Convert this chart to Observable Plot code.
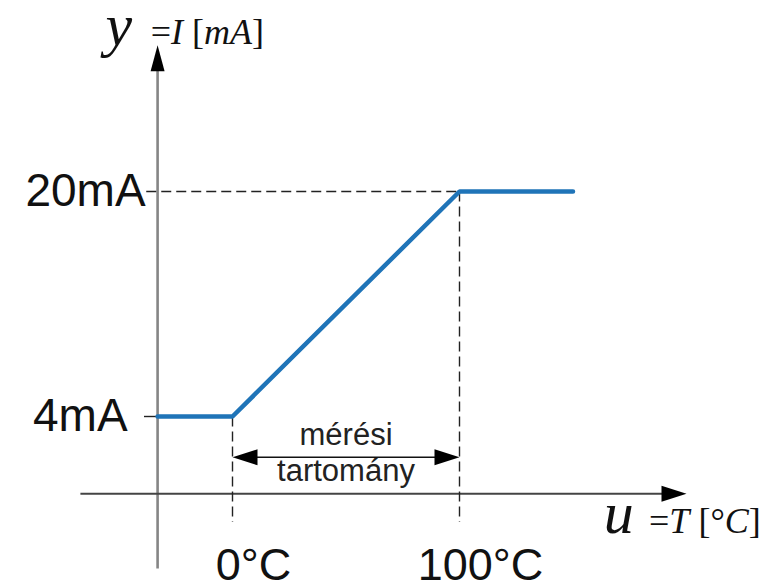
<!DOCTYPE html>
<html>
<head>
<meta charset="utf-8">
<script src="https://cdn.jsdelivr.net/npm/d3@7"></script>
<script src="https://cdn.jsdelivr.net/npm/@observablehq/plot@0.6"></script>
<style>
  html, body { margin: 0; padding: 0; background: #fff; }
</style>
</head>
<body>
<div id="chart"></div>
<script>
// ---- data ----
const temperature = [-33, 0, 100, 150];   // °C, characteristic breakpoints
const current     = [4, 4, 20, 20];       // mA
const rangeStart = 0, rangeEnd = 100;      // measuring range, °C
const iMin = 4, iMax = 20;                 // output current, mA
const yTickValues = [20, 4];
const yTickLabels = ["20mA", "4mA"];
const xTickValues = [0, 100];
const xTickLabels = ["0°C", "100°C"];
const spanLabel = ["mérési", "tartomány"];
const yTitle = ["y", "=I [mA]"];
const xTitle = ["u", "=T [°C]"];

// axis geometry in data units
const axisOriginX = -33, axisOriginY = -1.5;
const xAxisExtent = [-67, 200];
const yAxisExtent = [-6.8, 30.4];
const guideLeft = -38, dropBottom = -3.5, spanArrowY = 1.1;

const curve = temperature.map((t, i) => ({t, i: current[i]}));
const yTicks = yTickValues.map((v, i) => ({v, label: yTickLabels[i]}));
const xTicks = xTickValues.map((v, i) => ({v, label: xTickLabels[i]}));

// filled arrowheads (tip at the anchor point)
const headUp    = {draw(c) { c.moveTo(0, 0); c.lineTo(7, 26); c.lineTo(-7, 26); c.closePath(); }};
const headRight = {draw(c) { c.moveTo(0, 0); c.lineTo(-25, -8); c.lineTo(-25, 8); c.closePath(); }};
const headLeft  = {draw(c) { c.moveTo(0, 0); c.lineTo(25, -8); c.lineTo(25, 8); c.closePath(); }};

const sans = "Liberation Sans, Arial, Helvetica, sans-serif";
const serif = "Liberation Serif, Times New Roman, serif";

const chart = Plot.plot({
  width: 767,
  height: 585,
  margin: 0,
  style: {background: "#fff", overflow: "visible"},
  x: {domain: [0, 100], range: [232, 459], axis: null},
  y: {domain: [4, 20], range: [416, 191], axis: null},
  marks: [
    // vertical axis
    Plot.link([0], {x1: axisOriginX, x2: axisOriginX, y1: yAxisExtent[0], y2: yAxisExtent[1] - 1.5,
      stroke: "#858585", strokeWidth: 2.6}),
    // horizontal axis
    Plot.link([0], {x1: xAxisExtent[0], x2: xAxisExtent[1] - 8, y1: axisOriginY, y2: axisOriginY,
      stroke: "#444", strokeWidth: 2}),
    // dashed guide at 20 mA
    Plot.link([0], {x1: guideLeft, x2: rangeEnd, y1: iMax, y2: iMax,
      stroke: "#222", strokeWidth: 1.4, strokeDasharray: "10,5"}),
    // dashed drops at 0 and 100 °C
    Plot.link(xTickValues, {x1: d => d, x2: d => d, y1: d => (d === rangeStart ? iMin : iMax), y2: dropBottom,
      stroke: "#222", strokeWidth: 1.4, strokeDasharray: "10,5"}),
    // tick at 4 mA
    Plot.link([0], {x1: guideLeft - 1, x2: axisOriginX, y1: iMin, y2: iMin, stroke: "#222", strokeWidth: 1.4}),
    // measuring range arrow shaft
    Plot.link([0], {x1: rangeStart + 5, x2: rangeEnd - 5, y1: spanArrowY, y2: spanArrowY,
      stroke: "#111", strokeWidth: 1.6}),
    // characteristic
    Plot.line(curve, {x: "t", y: "i", stroke: "#1f74b8", strokeWidth: 4.5, strokeLinejoin: "miter"}),
    // arrowheads
    Plot.dot([0], {x: axisOriginX, y: yAxisExtent[1], symbol: headUp, fill: "#000", stroke: "none"}),
    Plot.dot([0], {x: xAxisExtent[1], y: axisOriginY, symbol: headRight, fill: "#000", stroke: "none"}),
    Plot.dot([0], {x: rangeStart, y: spanArrowY, symbol: headLeft, fill: "#000", stroke: "none"}),
    Plot.dot([0], {x: rangeEnd, y: spanArrowY, symbol: headRight, fill: "#000", stroke: "none"}),
    // y tick labels
    Plot.text(yTicks.filter(d => d.v === iMax), {x: axisOriginX, y: "v", text: "label", textAnchor: "end", dx: -12,
      fontSize: 46, fontFamily: sans, fill: "#111"}),
    Plot.text(yTicks.filter(d => d.v === iMin), {x: axisOriginX, y: "v", text: "label", textAnchor: "end", dx: -30,
      fontSize: 46, fontFamily: sans, fill: "#111"}),
    // x tick labels
    Plot.text(xTicks, {x: "v", y: -7.6, text: "label", textAnchor: "middle", lineAnchor: "bottom", dx: 21,
      fontSize: 45, fontFamily: sans, fill: "#111"}),
    // measuring range label
    Plot.text([spanLabel[0]], {x: (rangeStart + rangeEnd) / 2, y: 1.94, text: d => d, lineAnchor: "bottom",
      fontSize: 31, fontFamily: sans, fill: "#222"}),
    Plot.text([spanLabel[1]], {x: (rangeStart + rangeEnd) / 2, y: -0.62, text: d => d, lineAnchor: "bottom",
      fontSize: 31, fontFamily: sans, fill: "#222"}),
    // axis titles
    Plot.text([yTitle[0]], {x: -56, y: 30.45, text: d => d, textAnchor: "start", lineAnchor: "bottom",
      fontSize: 60, fontFamily: serif, fontStyle: "italic", fill: "#111"}),
    Plot.text([yTitle[1]], {x: -36, y: 30.5, text: d => d, textAnchor: "start", lineAnchor: "bottom",
      fontSize: 36, fontFamily: serif, fill: "#111"}),
    Plot.text([xTitle[0]], {x: 163.5, y: -4.3, text: d => d, textAnchor: "start", lineAnchor: "bottom",
      fontSize: 60, fontFamily: serif, fontStyle: "italic", fill: "#111"}),
    Plot.text([xTitle[1]], {x: 183.5, y: -4.3, text: d => d, textAnchor: "start", lineAnchor: "bottom",
      fontSize: 36, fontFamily: serif, fill: "#111"})
  ]
});

// italic variables inside the axis titles
const richParts = {
  "=I [mA]": [["=", false], ["I", true], [" [", false], ["mA", true], ["]", false]],
  "=T [°C]": [["=", false], ["T", true], [" [", false], ["°", false], ["C", true], ["]", false]]
};
d3.select(chart).selectAll("text").each(function () {
  const parts = richParts[this.textContent];
  if (!parts) return;
  this.textContent = "";
  for (const [s, it] of parts) {
    d3.select(this).append("tspan").attr("font-style", it ? "italic" : "normal").text(s);
  }
});

document.getElementById("chart").append(chart);
</script>
</body>
</html>
